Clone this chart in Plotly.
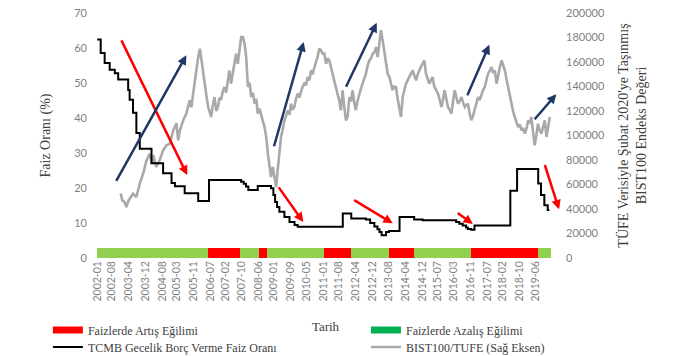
import calendar
from datetime import datetime, timedelta
import plotly.graph_objects as go

SERIF = "Liberation Serif"
SANS = "Lato"

# ---------------- data ----------------
x_tick_labels = ["2002-01", "2002-08", "2003-04", "2003-12", "2004-08", "2005-03", "2005-11",
                 "2006-07", "2007-02", "2007-10", "2008-06", "2009-01", "2009-09", "2010-05",
                 "2011-01", "2011-08", "2012-04", "2012-12", "2013-08", "2014-04", "2014-12",
                 "2015-07", "2016-03", "2016-11", "2017-07", "2018-02", "2018-10", "2019-06"]

# TCMB overnight lending rate (%), change points as months since 2002-01
rate_months = [0, 1.7, 3.6, 6.0, 8.4, 10.0, 14.8, 15.5, 17.1, 18.7, 20.3, 25.9, 31.4, 35.4, 37.0,
               41.7, 48.1, 53.3, 68.6, 69.8, 70.9, 72.0, 76.5, 82.8, 83.9, 84.7, 85.7, 86.8, 89.2,
               91.6, 94.0, 95.5, 117.0, 121.0, 128.0, 130.0, 132.0, 133.5, 134.5, 135.5, 137.6,
               139.0, 144.0, 151.0, 155.0, 171.0, 172.5, 174.1, 175.7, 176.5, 178.1, 179.7, 196.8,
               200.0, 210.1, 211.4, 213.0, 214.6, 215.4]
rate_values = [62.4, 58.6, 55.7, 53.8, 52.8, 51.0, 48.0, 45.2, 41.5, 35.7, 31.2, 27.1, 24.2, 21.4, 20.5,
               18.5, 16.3, 22.3, 21.8, 21.2, 20.4, 19.4, 20.6, 19.9, 18.0, 16.0, 14.6, 13.2, 11.7,
               10.3, 9.4, 8.9, 12.7, 11.3, 11.0, 10.0, 9.0, 8.2, 7.4, 6.5, 7.4,
               7.7, 11.7, 11.0, 10.8, 10.3, 9.8, 9.3, 8.7, 8.3, 8.1, 9.3, 19.2,
               25.4, 21.3, 18.0, 15.1, 13.7, 13.7]

# BIST100 / CPI (Feb-2020 prices), months since 2002-01
bist_months = [11.2, 12.0, 13.0, 13.95, 15.0, 16.0, 17.1, 18.7, 20.3, 21.9, 23.5, 25.1, 26.0, 26.7,
               28.2, 29.8, 31.4, 33.0, 34.6, 36.2, 37.8, 38.6, 39.4, 41.0, 42.5, 44.1, 44.9, 45.7,
               46.5, 47.3, 48.1, 48.9, 49.7, 50.5, 51.3, 52.1, 52.9, 54.3, 55.1, 55.9, 56.7, 57.5,
               58.3, 59.0, 59.8, 60.6, 61.4, 62.2, 63.0, 63.8, 64.6, 65.4, 66.2, 67.0, 67.8, 68.6,
               69.4, 70.2, 71.0, 71.8, 72.6, 73.4, 74.2, 75.0, 75.8, 76.5, 77.3, 78.1, 78.9, 79.7,
               80.5, 81.3, 82.0, 82.8, 83.6, 84.4, 85.2, 86.0, 86.8, 87.6, 88.4, 89.2, 90.0, 90.8,
               91.6, 92.3, 93.1, 93.9, 94.7, 95.5, 96.3, 97.1, 97.9, 98.7, 99.5, 100.3, 101.1, 101.9,
               102.7, 103.5, 104.3, 105.0, 105.8, 106.6, 107.4, 108.2, 109.0, 109.8, 110.6, 111.4,
               112.1, 112.9, 113.7, 114.5, 115.3, 116.1, 116.9, 117.7, 118.5, 119.3, 120.1, 120.9,
               121.7, 122.5, 123.2, 124.0, 124.8, 125.6, 126.4, 127.2, 128.0, 128.8, 129.6, 130.4,
               131.2, 132.0, 132.8, 133.6, 134.4, 135.2, 136.0, 136.8, 137.6, 138.4, 139.2, 140.0,
               140.7, 141.5, 142.3, 143.1, 143.9, 144.7, 145.5, 146.3, 147.1, 147.9, 148.7, 149.5,
               150.3, 151.1, 151.9, 152.7, 153.4, 154.2, 155.0, 155.8, 156.6, 157.4, 158.2, 159.0,
               159.8, 160.6, 161.4, 162.4, 163.2, 164.0, 164.8, 165.5, 166.3, 167.1, 167.9, 168.7,
               169.5, 170.3, 171.1, 171.9, 172.7, 173.5, 174.3, 175.1, 175.9, 176.6, 177.4, 178.2,
               179.0, 179.8, 180.6, 181.4, 182.2, 183.0, 183.8, 184.6, 185.4, 186.2, 187.0, 187.8,
               188.6, 189.4, 190.2, 191.0, 191.8, 192.6, 193.4, 194.2, 195.0, 195.7, 196.5, 197.3,
               198.1, 198.9, 199.7, 200.5, 201.3, 202.1, 202.9, 203.7, 204.5, 205.3, 206.0, 206.8,
               207.6, 208.4, 209.2, 210.0, 210.8, 211.6, 212.4, 213.2, 214.0, 214.8, 215.6]
bist_values = [52500, 47000, 45700, 41600, 47000, 49800, 52500, 49800, 60700, 68900, 79700, 85200, 77000, 84000,
               74300, 80000, 87900, 92000, 93400, 104200, 110000, 96000, 104000, 112400, 118000, 128700, 123000, 134200,
               145000, 155900, 164100, 170900, 161000, 150000, 139600, 132000, 123300, 115100, 125000, 131400, 120000, 123300,
               131000, 129000, 136000, 139600, 135000, 145000, 153200, 142300, 150000, 155900, 166800, 158600, 172200, 180400,
               180400, 175000, 164100, 139600, 143000, 131400, 135000, 126000, 130000, 117800, 122000, 117800, 112000, 106900,
               98800, 85200, 77000, 66100, 74300, 66100, 57900, 71600, 85200, 98800, 105000, 112400, 116000, 120600,
               117000, 126000, 121000, 123300, 130000, 134200, 131000, 136900, 140000, 142300, 141000, 147800, 145000, 153200,
               150000, 155900, 160000, 164100, 171000, 169500, 166800, 166800, 158600, 163000, 161300, 155000,
               150500, 145000, 139600, 134000, 128700, 120600, 136900, 123300, 112400, 115100, 131400, 128000,
               136900, 126000, 120600, 128000, 134200, 138000, 142300, 146000, 150500, 157000, 161300, 163000,
               166800, 168000, 172200, 164100, 177700, 186000, 177700, 166800, 155900, 150000, 147800, 142000,
               136900, 140000, 139600, 130000, 120600, 115100, 131400, 137000, 142300, 145000, 147800, 150000,
               153200, 149000, 145000, 150000, 153200, 156000, 158600, 161300, 150500, 146000, 142300, 145000,
               147800, 140000, 136900, 134200, 128700, 123300, 130000, 136900, 130000, 123300, 121000, 117800,
               128000, 136900, 131000, 126000, 128000, 131400, 127000, 123300, 125000, 126000, 118000, 112400,
               116000, 120600, 126000, 131400, 129000, 134200, 137000, 139600, 145000, 150500, 153000, 155900,
               151000, 153200, 142300, 150500, 156000, 161300, 158000, 153200, 146000, 139600, 132000, 126000,
               120000, 115100, 111000, 106900, 109000, 104200, 106000, 101500, 106000, 112400, 110000, 115100,
               104000, 92000, 100000, 109600, 104000, 101500, 107000, 112400, 98800, 108000, 115100]

# bottom band: rising-rate periods (red), otherwise falling (green)
band_height = 3
band_first_month = "2002-01"
band_last_month = "2019-12"
rising_periods = [("2006-06", "2007-08"), ("2008-06", "2008-09"), ("2011-01", "2012-01"),
                  ("2013-08", "2014-07"), ("2016-11", "2019-06")]

# trend arrows: (tail month, tail %, tip month, tip %) in left-axis units
arrows_falling = [(11.2, 62.6, 42.9, 23.7), (86.0, 20.6, 98.2, 10.3), (121.7, 16.8, 140.8, 9.9),
                  (171.0, 13.2, 178.9, 9.7), (213.0, 27.0, 220.0, 13.9)]
arrows_rising = [(8.7, 21.6, 42.5, 57.9), (84.0, 31.5, 98.4, 61.7), (118.2, 48.5, 133.1, 67.2),
                 (176.0, 46.1, 186.8, 60.9), (207.8, 39.2, 218.7, 46.8)]


# ---------------- helpers ----------------
def mdate(m):
    whole = int(m // 1)
    frac = m - whole
    y = 2002 + whole // 12
    mo = whole % 12 + 1
    d0 = datetime(y, mo, 1)
    return (d0 + timedelta(days=frac * calendar.monthrange(y, mo)[1])).strftime("%Y-%m-%d %H:%M")


def ym_to_index(s):
    y, mo = map(int, s.split("-"))
    return (y - 2002) * 12 + mo - 1


red_x, red_w, green_x, green_w = [], [], [], []
for i in range(ym_to_index(band_first_month), ym_to_index(band_last_month) + 1):
    y = 2002 + i // 12
    mo = i % 12 + 1
    ndays = calendar.monthrange(y, mo)[1]
    mid = datetime(y, mo, 1) + timedelta(days=ndays / 2)
    key = f"{y:04d}-{mo:02d}"
    w = (ndays + 0.3) * 86400000
    if any(a <= key <= b for a, b in rising_periods):
        red_x.append(mid); red_w.append(w)
    else:
        green_x.append(mid); green_w.append(w)

fig = go.Figure()

# gray BIST line on base axis (right side)
fig.add_trace(go.Scatter(x=[mdate(m) for m in bist_months], y=bist_values, mode="lines",
                         line=dict(color="#a9a9a9", width=2.6), name="BIST100/TUFE (Sağ Eksen)",
                         yaxis="y", legend="legend4"))
# bands
fig.add_trace(go.Bar(x=green_x, y=[band_height] * len(green_x), width=green_w, marker_color="#92d050",
                     marker_line_width=0, yaxis="y2", showlegend=False))
fig.add_trace(go.Bar(x=red_x, y=[band_height] * len(red_x), width=red_w, marker_color="#ff0000",
                     marker_line_width=0, yaxis="y2", showlegend=False))
# black rate line
fig.add_trace(go.Scatter(x=[mdate(m) for m in rate_months], y=rate_values, mode="lines",
                         line=dict(color="#000000", width=2, shape="hv"),
                         name="TCMB Gecelik Borç Verme Faiz Oranı", yaxis="y2", legend="legend3"))
# legend-only swatches for the bands
fig.add_trace(go.Scatter(x=[None], y=[None], mode="lines", line=dict(color="#ff0000", width=7),
                         name="Faizlerde Artış Eğilimi", yaxis="y2", legend="legend"))
fig.add_trace(go.Scatter(x=[None], y=[None], mode="lines", line=dict(color="#00b050", width=7),
                         name="Faizlerde Azalış Eğilimi", yaxis="y2", legend="legend2"))

annotations = []
for arr, col in ((arrows_falling, "#ff0000"), (arrows_rising, "#1f3864")):
    for tm, tv, hm, hv in arr:
        annotations.append(dict(x=mdate(hm), y=hv, ax=mdate(tm), ay=tv, xref="x", yref="y2",
                                axref="x", ayref="y2", showarrow=True, arrowhead=2, arrowsize=0.75,
                                arrowwidth=2.5, arrowcolor=col, text=""))

tick_dates = [s + "-01" for s in x_tick_labels]
legend_common = dict(orientation="h", xanchor="left", yanchor="middle",
                     font=dict(family=SERIF, size=12, color="#404040"), bgcolor="rgba(0,0,0,0)",
                     itemwidth=30)
col1, col2 = -0.097, 0.587
row1, row2 = -0.294, -0.363

fig.update_layout(
    width=690, height=356,
    margin=dict(l=93, r=132, t=13, b=98, autoexpand=False),
    paper_bgcolor="white", plot_bgcolor="white",
    barmode="overlay", bargap=0,
    annotations=annotations,
    xaxis=dict(type="date", range=[mdate(-2), mdate(219.5)], tickmode="array", tickvals=tick_dates,
               ticktext=x_tick_labels, tickangle=-90, showgrid=False, zeroline=False, showline=False,
               ticks="", tickfont=dict(family=SANS, size=10.5, color="#7f7f7f"),
               title=dict(text="Tarih", font=dict(family=SERIF, size=13, color="#404040"), standoff=21)),
    yaxis=dict(side="right", range=[0, 200000], dtick=20000, tickformat="d", showgrid=False,
               zeroline=False, showline=False, ticks="", ticklabelstandoff=7,
               tickfont=dict(family=SANS, size=11, color="#7f7f7f"),
               title=dict(text="TÜFE Verisiyle Şubat 2020'ye Taşınmış<br>BIST100 Endeks Değeri",
                          font=dict(family=SERIF, size=14, color="#404040"), standoff=14)),
    yaxis2=dict(side="left", overlaying="y", range=[0, 70], dtick=10, showgrid=False, zeroline=False,
                showline=False, ticks="", ticklabelstandoff=5,
                tickfont=dict(family=SANS, size=11, color="#7f7f7f"),
                title=dict(text="Faiz Oranı (%)", font=dict(family=SERIF, size=14, color="#404040"),
                           standoff=20)),
    legend=dict(x=col1, y=row1, **legend_common),
    legend2=dict(x=col2, y=row1, **legend_common),
    legend3=dict(x=col1, y=row2, **legend_common),
    legend4=dict(x=col2, y=row2, **legend_common),
)

fig.write_html("out.html", config={"displayModeBar": False},
               post_script="document.body.style.margin='0';")
